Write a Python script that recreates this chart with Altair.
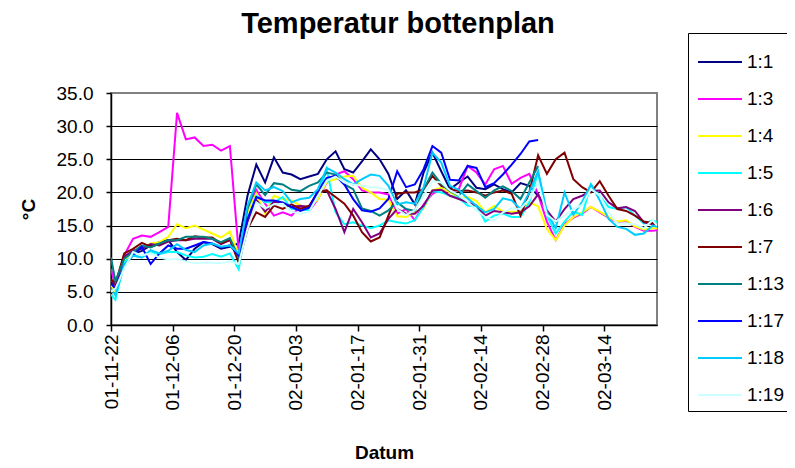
import altair as alt
import pandas as pd

# day offsets from 2001-11-22 at which values were read
day_offsets = [0, 1, 3, 5, 7, 9, 11, 13, 15, 17, 19, 21, 23, 25, 27, 29, 31, 33, 35, 37,
               39, 41, 43, 45, 47, 49, 51, 53, 55, 57, 59, 61, 63, 65, 67, 69, 71, 73, 75, 77,
               79, 81, 83, 85, 87, 89, 91, 93, 95, 97, 99, 101, 103, 105, 107, 109, 111, 113, 115, 117,
               119, 121, 123, 124]

s_1_1 = [6.6, 5.6, 10.5, 10.7, 11.2, 12.0, 12.5, 12.8, 11.0, 9.8,
         11.5, 12.5, 12.2, 11.5, 11.8, 12.3, 19.5, 24.2, 21.5, 25.3,
         23.0, 22.7, 22.0, 22.4, 22.8, 25.0, 26.2, 23.5, 23.0, 24.7,
         26.5, 25.0, 22.8, 19.0, 20.3, 18.2, 23.0, 26.0, 23.2, 20.5,
         21.5, 22.4, 20.7, 20.5, 21.2, 20.5, 20.0, 21.4, 21.0, 19.5]
s_1_3 = [8.5, 5.8, 10.5, 13.0, 13.5, 13.3, 14.0, 14.8, 32.0, 28.0,
         28.3, 27.0, 27.2, 26.3, 27.0, 11.0, 17.5, 20.4, 18.3, 16.5,
         17.0, 16.5, 17.9, 17.2, 19.0, 21.5, 22.7, 23.2, 22.0, 20.3,
         20.0, 20.0, 19.7, 16.8, 17.5, 15.8, 18.2, 19.8, 20.5, 20.0,
         20.5, 24.0, 23.0, 21.2, 23.5, 24.0, 21.3, 22.2, 22.8, 19.7,
         15.6, 12.8, 15.2, 16.2, 16.8, 17.8, 17.0, 16.2, 15.5, 15.7,
         14.8, 14.2, 14.2, 14.3]
s_1_4 = [6.0, 5.0, 9.8, 11.0, 11.5, 12.3, 12.5, 13.3, 15.2, 14.6,
         15.0, 14.4, 13.8, 13.2, 14.1, 10.5, 17.0, 19.8, 16.8, 19.5,
         19.0, 18.8, 18.0, 17.8, 19.0, 21.6, 22.0, 22.4, 22.5, 20.7,
         20.0, 19.0, 18.9, 16.4, 16.3, 17.0, 17.6, 20.3, 20.7, 20.0,
         19.2, 19.3, 18.7, 17.0, 18.0, 17.1, 17.1, 17.1, 18.5, 17.9,
         14.5, 12.8, 15.0, 16.3, 17.0, 17.8, 17.1, 16.3, 15.6, 15.8,
         14.9, 14.4, 14.6, 14.6]
s_1_5 = [4.6, 3.8, 9.5, 10.5, 10.2, 11.0, 10.7, 11.0, 11.0, 10.5,
         10.2, 10.3, 10.7, 10.3, 10.8, 8.4, 16.0, 19.5, 18.5, 18.5,
         19.3, 17.5, 17.5, 17.3, 19.5, 23.5, 17.0, 15.2, 15.5, 15.0,
         14.6, 15.0, 15.8, 15.5, 15.3, 15.8, 17.8, 20.2, 20.0, 19.5,
         19.2, 18.0, 18.0, 15.6, 16.5, 16.8, 16.3, 16.3, 18.5, 23.0,
         16.5, 13.8, 15.6, 17.1, 16.6, 21.2, 19.5, 17.8, 17.5, 17.8,
         16.5, 15.3, 15.8, 15.5]
s_1_6 = [6.7, 6.0, 10.3, 11.2, 11.5, 12.2, 12.0, 12.6, 12.8, 12.8,
         13.0, 13.0, 13.0, 12.2, 12.8, 10.2, 15.5, 18.9, 17.1, 18.6,
         18.3, 17.8, 18.0, 17.8, 20.2, 20.3, 17.5, 14.0, 17.5, 15.5,
         13.2, 13.8, 16.0, 17.5, 16.8, 16.8, 18.0, 20.3, 20.4, 19.5,
         19.0, 18.5, 18.0, 16.5, 17.2, 17.0, 16.8, 17.0, 17.9, 19.7,
         17.3, 15.6, 17.5, 19.0, 19.5, 20.2, 20.3, 18.5, 17.6, 17.8,
         17.2, 15.5, 15.2, 15.0]
s_1_7 = [6.9, 6.2, 10.8, 11.5, 12.4, 11.8, 12.2, 12.8, 13.0, 12.8,
         13.4, 13.2, 13.2, 12.3, 12.9, 9.4, 14.5, 17.0, 16.3, 18.0,
         17.5, 18.2, 17.5, 18.0, 20.0, 20.3, 19.3, 18.3, 16.5, 14.0,
         12.6, 13.2, 16.5, 19.8, 20.0, 20.0, 20.5, 22.5, 21.0, 20.5,
         20.2, 20.3, 20.0, 19.5, 20.0, 20.3, 19.8, 16.5, 20.0, 25.6,
         22.8, 25.0, 26.0, 22.0, 20.8, 20.0, 21.7, 19.5, 17.5, 17.2,
         16.5, 15.6, 15.4, 15.0]
s_1_13 = [10.2, 6.6, 10.0, 11.0, 12.0, 11.7, 12.3, 12.8, 12.8, 13.3,
          13.3, 13.3, 13.0, 12.5, 13.1, 10.2, 17.5, 21.2, 19.6, 21.4,
          21.2, 20.4, 20.2, 21.0, 21.5, 23.0, 22.7, 21.2, 20.5, 17.6,
          17.2, 16.5, 17.3, 18.5, 17.5, 17.2, 20.5, 23.0, 21.3, 20.2,
          19.5, 21.2, 20.2, 19.2, 20.3, 20.9, 20.2, 19.0, 21.5, 24.0]
s_1_17 = [6.2, 5.5, 9.0, 10.5, 11.8, 9.2, 10.8, 12.0, 11.5, 11.5,
          12.0, 12.5, 12.3, 11.7, 12.0, 10.5, 16.0, 19.3, 18.8, 18.8,
          18.5, 17.8, 17.2, 17.7, 20.2, 22.2, 22.5, 21.2, 19.0, 17.3,
          17.1, 17.6, 19.0, 23.2, 20.8, 21.2, 23.5, 27.0, 26.0, 21.9,
          21.8, 24.0, 23.7, 20.8, 21.4, 22.7, 24.2, 25.8, 27.7, 27.9]
s_1_18 = [5.5, 4.5, 9.0, 10.5, 10.2, 11.3, 10.8, 11.2, 12.2, 11.3,
          11.0, 12.0, 12.3, 11.8, 12.0, 10.8, 18.0, 21.5, 20.3, 20.8,
          20.2, 18.5, 19.0, 19.2, 20.5, 23.7, 23.0, 22.0, 21.2, 22.0,
          22.7, 22.5, 21.0, 18.2, 18.5, 18.3, 20.8, 26.0, 24.5, 21.0,
          20.4, 19.1, 18.0, 17.0, 17.5, 19.1, 18.8, 17.5, 20.0, 23.2,
          17.0, 14.6, 20.0, 16.6, 18.6, 21.2, 18.8, 16.0, 14.8, 14.5,
          13.6, 13.8, 15.0, 14.8]
s_1_19 = [5.0, 5.5, 8.5, 11.0, 10.5, 10.8, 10.2, 9.9, 10.0, 9.6,
          9.3, 9.4, 9.4, 9.3, 9.6, 9.2, 14.5, 18.5, 17.6, 18.2,
          18.3, 17.1, 16.8, 17.1, 19.5, 21.8, 22.4, 21.5, 21.2, 21.0,
          20.8, 20.7, 20.3, 17.5, 16.6, 17.3, 19.5, 21.7, 21.5, 20.3,
          19.6, 18.6, 17.3, 16.3, 15.8, 17.0, 17.6, 17.5, 19.0, 21.5,
          16.6, 15.6, 16.5, 17.5, 18.1, 20.5, 19.5, 17.0, 15.3, 15.3,
          15.2, 14.6, 15.8, 15.0]

series_names = ["1:1", "1:3", "1:4", "1:5", "1:6", "1:7", "1:13", "1:17", "1:18", "1:19"]
series_values = [s_1_1, s_1_3, s_1_4, s_1_5, s_1_6, s_1_7, s_1_13, s_1_17, s_1_18, s_1_19]
series_colors = ["#000080", "#FF00FF", "#FFFF00", "#00FFFF", "#800080",
                 "#800000", "#008080", "#0000FF", "#00CCFF", "#CCFFFF"]

tick_dates = ["2001-11-22", "2001-12-06", "2001-12-20", "2002-01-03", "2002-01-17",
              "2002-01-31", "2002-02-14", "2002-02-28", "2002-03-14"]
y_ticks = [0, 5, 10, 15, 20, 25, 30, 35]

start = pd.Timestamp("2001-11-22")
rows = []
for order, (name, vals) in enumerate(zip(series_names, series_values)):
    for d, v in zip(day_offsets, vals):
        rows.append({"datum": (start + pd.Timedelta(days=d)).strftime("%Y-%m-%d"),
                     "temp": v, "serie": name, "ord": order})
df = pd.DataFrame(rows)


def dt(s):
    y, m, d = (int(p) for p in s.split("-"))
    return alt.DateTime(year=y, month=m, date=d, utc=True)


FONT = "Liberation Sans"

chart = alt.Chart(df).mark_line(strokeWidth=2, clip=True).encode(
    x=alt.X("datum:T",
            scale=alt.Scale(type="utc", domain=[dt("2001-11-22"), dt("2002-03-26")]),
            axis=alt.Axis(values=[dt(s) for s in tick_dates],
                          labelExpr="utcFormat(datum.value, '%y-%m-%d')",
                          labelAngle=270, grid=False,
                          tickSize=6, labelPadding=3, title="Datum", titlePadding=33)),
    y=alt.Y("temp:Q", scale=alt.Scale(domain=[0, 35], nice=False),
            axis=alt.Axis(values=y_ticks, format=".1f", tickSize=5, labelPadding=13,
                          gridColor=alt.condition("datum.value >= 35",
                                                  alt.value("#808080"), alt.value("black")),
                          title="°C", titlePadding=18)),
    color=alt.Color("serie:N",
                    scale=alt.Scale(domain=series_names, range=series_colors),
                    legend=alt.Legend(orient="none", legendX=577, legendY=-60, title=None,
                                      strokeColor="black", fillColor="white", padding=6,
                                      symbolType="stroke", symbolSize=1936,
                                      symbolStrokeWidth=2, symbolOffset=3,
                                      labelFontSize=19, labelFont=FONT, labelColor="black",
                                      labelOffset=4, rowPadding=4)),
    order=alt.Order("ord:Q"),
    detail="serie:N",
).properties(
    width=546, height=232,
    padding={"left": 103, "top": 85, "right": 130, "bottom": 140},
    autosize=alt.AutoSizeParams(type="none"),
    title=alt.TitleParams("Temperatur bottenplan", font=FONT, fontSize=29,
                          fontWeight="bold", color="black", anchor="middle", dx=14, dy=10),
).configure_view(
    stroke="#808080", strokeWidth=2
).configure_axis(
    labelFont=FONT, labelFontSize=19, labelColor="black",
    titleFont=FONT, titleFontSize=19, titleFontWeight="bold", titleColor="black",
    domainColor="black", domainWidth=1.5, tickColor="black", tickWidth=1.5,
    gridWidth=1,
)

chart.save("out.html", embed_options={"renderer": "svg", "actions": False})
